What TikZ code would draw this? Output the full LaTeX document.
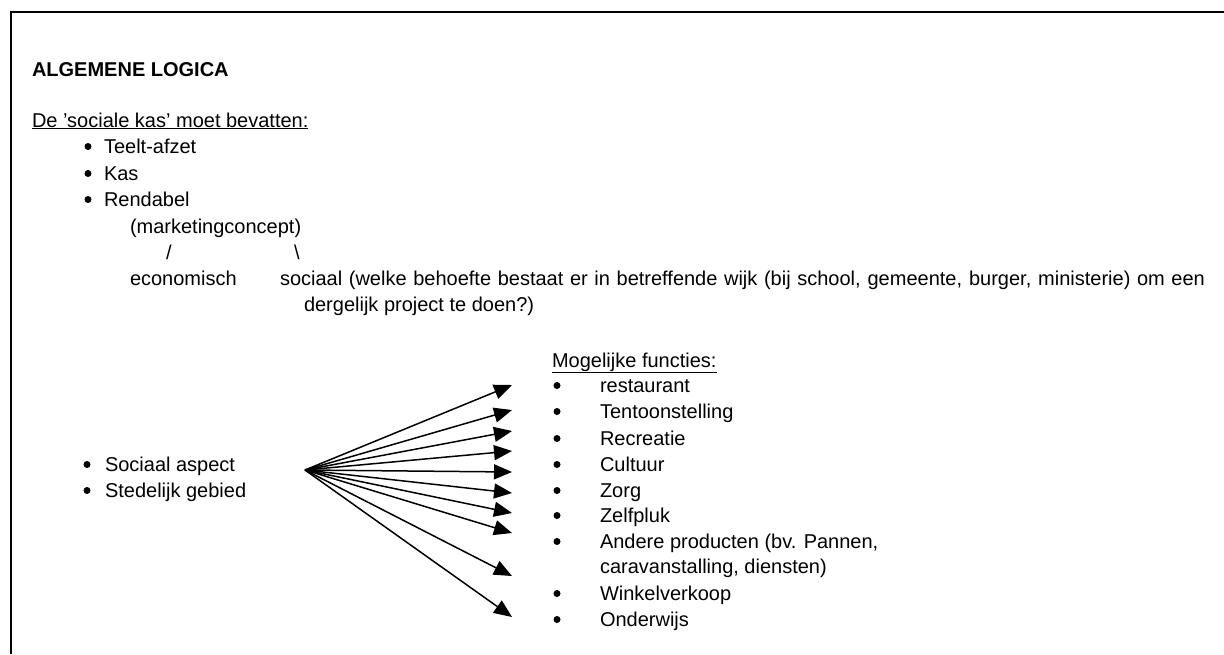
\documentclass[tikz,border=0pt]{standalone}
\usepackage{fontspec}
\setmainfont{Liberation Sans}
\usetikzlibrary{arrows.meta}
\begin{document}
\begin{tikzpicture}[x=1pt,y=-1pt,
  txt/.style={anchor=base west,inner sep=0pt,outer sep=0pt,font=\fontsize{20}{24}\selectfont},
  ttl/.style={txt,font=\fontsize{20}{24}\selectfont\bfseries},
  dot/.style={circle,fill=black,inner sep=0pt,minimum size=7pt},
  fan/.style={line width=1.5pt,-{Triangle[length=18pt,width=15pt]}}]
\useasboundingbox (0,0) rectangle (1224,654);
\fill[white] (0,0) rectangle (1224,654);
\draw[line width=2pt] (10.5,654) -- (10.5,11.5) -- (1224,11.5);

\node[ttl] (title) at (32,76) {ALGEMENE LOGICA};
\node[txt] (hdr) at (32,127) {\underline{De 'sociale kas' moet bevatten:}};
\node[dot] (b1) at (88,146.5) {};
\node[txt] (teelt) at (104,153) {Teelt-afzet};
\node[dot] (b2) at (88,173.5) {};
\node[txt] (kas) at (104,180) {Kas};
\node[dot] (b3) at (88,199.5) {};
\node[txt] (rend) at (104,206) {Rendabel};
\node[txt] (mc) at (130,233) {(marketingconcept)};
\node[txt] (sl) at (166,259) {/};
\node[txt] (bs) at (294,259) {\textbackslash};
\node[txt] (eco) at (130,285) {economisch};
\node[txt] (soc) at (280,285) {\makebox[925pt][s]{sociaal (welke behoefte bestaat er in betreffende wijk (bij school, gemeente, burger, ministerie) om een}};
\node[txt] (soc2) at (304,311) {dergelijk project te doen?)};

\node[dot] (b4) at (87,464.5) {};
\node[txt] (sa) at (105,471) {Sociaal aspect};
\node[dot] (b5) at (87,490.5) {};
\node[txt] (sg) at (105,497) {Stedelijk gebied};

\node[txt] (mf) at (552,367) {\underline{Mogelijke functies:}};
\foreach \n/\y/\t in {1/392/restaurant,2/418/Tentoonstelling,3/445/Recreatie,4/471/Cultuur,5/497/Zorg,6/522/Zelfpluk,7/548/{Andere producten (bv. Pannen,},9/600/Winkelverkoop,10/626/Onderwijs}{
  \node[dot] (fb\n) at (557,\y-6.5) {};
  \node[txt] (f\n) at (600,\y) {\t};
}
\node[txt] (f8) at (600,573) {caravanstalling, diensten)};

\coordinate (o) at (305,470);
\coordinate (t1) at (512,385);
\coordinate (t2) at (512,410);
\coordinate (t3) at (512,431);
\coordinate (t4) at (512,451);
\coordinate (t5) at (512,472);
\coordinate (t6) at (512,493);
\coordinate (t7) at (512,513);
\coordinate (t8) at (512,533);
\coordinate (t9) at (512,576);
\coordinate (t10) at (512,617);
\foreach \i in {1,...,10}{\draw[fan] (o) -- (t\i);}
\end{tikzpicture}
\end{document}
